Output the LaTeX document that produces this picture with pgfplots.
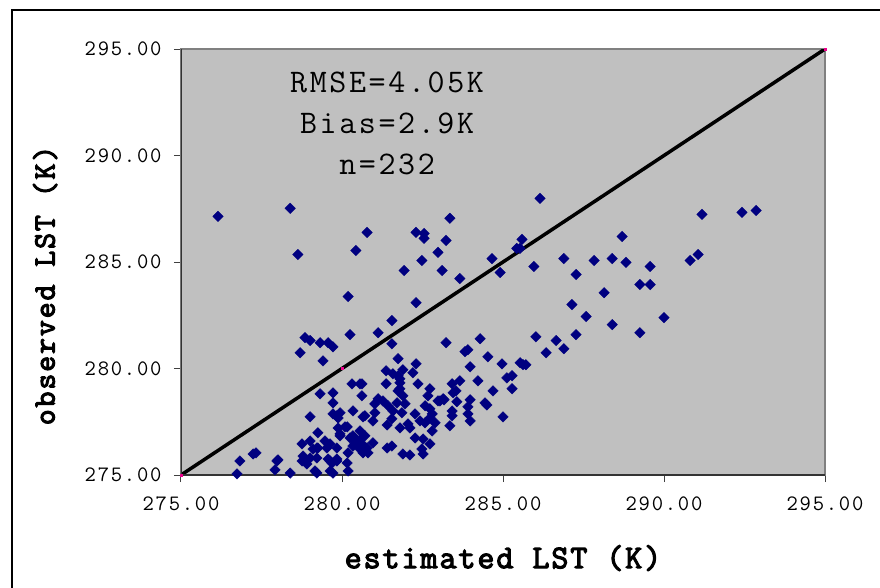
\documentclass[border=0pt]{standalone}
\usepackage{fontspec}
\setmainfont{Latin Modern Mono}[LetterSpace=8]
\newfontfamily\boldmono{Latin Modern Mono}[LetterSpace=6, FakeBold=3.5]
\usepackage{pgfplots}
\pgfplotsset{compat=1.18}
\definecolor{plotgray}{RGB}{192,192,192}
\definecolor{navy}{RGB}{0,0,128}
\definecolor{axgray}{RGB}{128,128,128}
\begin{document}
\begin{tikzpicture}
\begin{axis}[
  scale only axis, width=644pt, height=426pt,
  xmin=275, xmax=295, ymin=275, ymax=295,
  xtick={275,280,285,290,295}, ytick={275,280,285,290,295},
  axis background/.style={fill=plotgray},
  axis line style={draw=axgray, line width=1.3pt},
  tick align=outside, xtick pos=bottom, ytick pos=left,
  major tick length=7pt,
  tick style={draw=black!75, line width=1pt},
  /pgf/number format/.cd, fixed, fixed zerofill, precision=2, 1000 sep={}, assume math mode=true, /pgfplots/.cd,
  xticklabel style={font=\fontsize{22}{24}\selectfont, yshift=-11pt},
  yticklabel style={font=\fontsize{22}{24}\selectfont, xshift=-9pt},
  xlabel={estimated LST (K)}, ylabel={observed LST (K)},
  xlabel style={font=\boldmono\fontsize{33}{36}\selectfont, at={(axis description cs:0.5,-0.195)}, anchor=center},
  ylabel style={font=\boldmono\fontsize{31}{34}\selectfont, at={(axis description cs:-0.211,0.445)}, anchor=center},
]
\coordinate (O) at (rel axis cs:0,0);
\addplot[black, line width=3.5pt] coordinates {(275,275) (295,295)};
\addplot[only marks, mark=square*, mark size=1pt, mark options={magenta, fill=magenta}] coordinates {(275,275) (280,280) (295,295)};
\addplot[only marks, mark=square*, mark size=3.7pt, mark options={rotate=45, draw=navy, fill=navy}] table {
x y
276.15 287.14
278.39 287.52
278.63 285.35
280.43 285.54
280.78 286.39
280.19 283.38
282.30 286.39
282.55 286.34
282.55 286.11
283.35 287.05
283.23 286.01
282.98 285.45
282.48 285.07
281.93 284.60
283.11 284.60
283.66 284.22
282.30 283.09
281.55 282.25
284.66 285.16
284.91 284.51
285.59 286.06
285.43 285.64
285.53 285.64
285.96 284.79
286.15 287.99
286.89 285.16
287.27 284.41
287.83 285.07
288.39 285.16
288.82 284.98
288.70 286.20
289.57 284.79
289.25 283.94
289.57 283.94
288.14 283.56
287.14 283.00
287.58 282.44
290.00 282.39
291.18 287.24
290.81 285.07
291.06 285.35
292.42 287.33
292.86 287.42
288.39 282.06
289.25 281.68
286.02 281.49
286.65 281.31
287.27 281.59
286.34 280.74
286.89 280.93
285.62 280.18
285.71 280.18
284.29 281.40
283.82 280.79
283.91 280.88
284.53 280.55
283.98 280.08
284.97 280.22
285.53 280.27
285.12 279.56
285.28 279.66
283.66 279.42
284.22 279.42
283.42 279.28
283.54 278.95
285.28 279.05
284.69 278.95
283.57 278.44
283.98 278.53
283.91 278.20
284.44 278.39
284.50 278.29
283.42 278.01
283.91 277.87
283.42 277.78
283.98 277.54
285.00 277.73
283.35 277.31
281.12 281.68
281.55 281.16
283.23 281.21
281.74 280.46
282.30 280.22
281.37 279.89
281.58 279.75
281.74 279.66
281.89 279.94
282.20 279.80
281.80 279.33
281.37 279.28
280.62 279.28
282.36 279.28
282.73 279.05
281.80 279.05
280.62 278.72
281.89 278.72
282.67 278.72
283.14 278.58
283.04 278.48
283.45 278.86
281.12 278.58
281.27 278.48
281.02 278.34
281.43 278.25
281.71 278.39
281.96 278.34
282.58 278.25
282.73 278.11
282.98 278.48
280.71 277.78
281.02 277.92
281.58 278.01
281.86 277.92
282.27 277.87
282.80 277.87
280.96 277.54
281.55 277.64
282.05 277.40
282.42 277.54
281.80 277.21
282.11 277.21
282.58 277.45
282.80 277.07
280.62 276.74
282.27 276.74
282.52 276.69
280.96 276.51
281.40 276.27
281.55 276.36
282.73 276.46
282.48 276.22
281.89 275.99
282.11 275.94
282.52 275.99
280.62 276.22
278.85 281.45
279.01 281.31
279.32 281.21
279.57 281.21
279.72 281.02
280.25 281.59
278.70 280.74
279.41 280.36
280.31 279.28
280.56 279.28
279.32 278.81
279.72 278.86
279.72 278.39
279.01 277.73
279.72 277.87
279.94 277.92
280.34 278.01
279.88 277.68
280.65 277.73
279.25 276.98
279.88 277.21
280.16 277.26
279.94 276.84
279.01 276.60
278.76 276.46
279.47 276.60
279.63 276.46
280.25 276.74
280.47 276.60
280.62 276.46
280.34 276.36
280.56 276.22
279.10 276.22
279.25 276.27
278.79 275.89
278.01 275.71
278.76 275.66
279.01 275.80
279.57 275.75
279.69 275.56
279.84 275.75
280.19 276.04
280.16 275.56
277.92 275.24
278.39 275.09
279.16 275.19
279.63 275.19
280.19 275.19
276.74 275.05
276.83 275.66
277.24 275.99
277.33 276.04
277.98 275.66
279.84 277.78
280.09 277.26
279.94 276.93
279.22 276.27
279.53 276.27
279.84 276.27
280.40 276.74
280.40 276.46
280.78 276.27
280.65 276.04
278.91 275.52
279.22 275.80
279.63 275.66
279.84 275.66
279.22 275.09
279.72 275.09
280.40 276.60
280.71 276.84
280.56 277.07
280.81 276.04
281.80 279.52
281.74 278.95
283.17 278.53
281.40 277.35
282.73 277.68
282.89 277.45
280.34 276.84
};
\draw[black!80, line width=1.3pt] (rel axis cs:0,1) -- (rel axis cs:0,0) -- (rel axis cs:1,0);
\node[font=\fontsize{33}{41}\selectfont, align=center, anchor=center] at (axis description cs:0.32,0.825) {RMSE=4.05K\\Bias=2.9K\\n=232};
\end{axis}
\pgfresetboundingbox
\useasboundingbox ([shift={(-181pt,-112pt)}]O) rectangle ([shift={(699pt,475pt)}]O);
\draw[black, line width=1.8pt] ([shift={(-169pt,-200pt)}]O) -- ([shift={(-169pt,465pt)}]O) -- ([shift={(760pt,465pt)}]O);
\end{tikzpicture}
\end{document}
